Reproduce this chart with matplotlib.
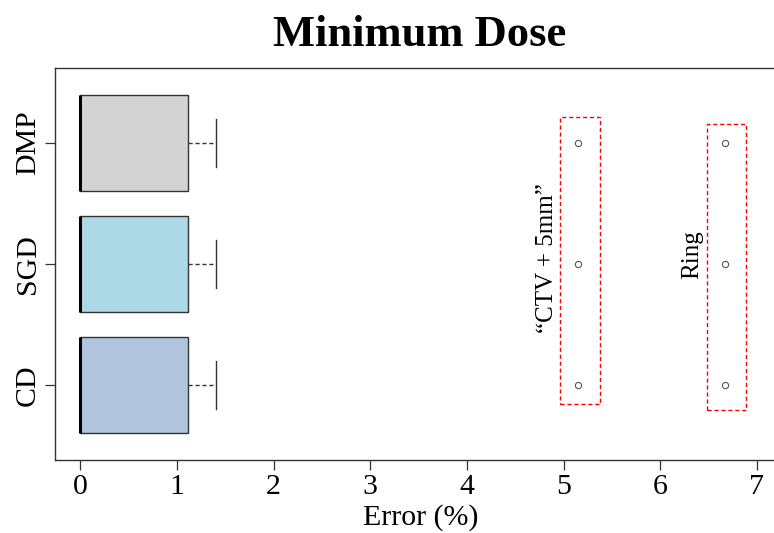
import matplotlib
matplotlib.use("Agg")
import matplotlib.pyplot as plt
from matplotlib.patches import Rectangle

# ---- data ----
categories = ["CD", "SGD", "DMP"]
box_colors = ["#B0C4DE", "#ADD8E6", "#D3D3D3"]
whisker_low = [0.0, 0.0, 0.0]
q1 = [0.0, 0.0, 0.0]
median = [0.0, 0.0, 0.0]
q3 = [1.12, 1.12, 1.12]
whisker_high = [1.41, 1.41, 1.41]
outliers = [[5.15, 6.67], [5.15, 6.67], [5.15, 6.67]]
region_labels = ["\u201cCTV + 5mm\u201d", "Ring"]
x_ticks = [0, 1, 2, 3, 4, 5, 6, 7]

plt.rcParams['font.family'] = ['Liberation Serif', 'DejaVu Serif']

fig = plt.figure(figsize=(7.74, 5.33), dpi=100)
ax = fig.add_axes([55/774, 1-460/533, (786-55)/774, (460-68)/533])

stats = []
for i, c in enumerate(categories):
    stats.append(dict(label=c, whislo=whisker_low[i], q1=q1[i], med=median[i],
                      q3=q3[i], whishi=whisker_high[i], fliers=outliers[i]))

positions = list(range(1, len(categories) + 1))
bp = ax.bxp(stats, positions=positions, widths=0.8, orientation='horizontal',
            patch_artist=True,
            boxprops=dict(edgecolor='#333333', linewidth=1.0),
            medianprops=dict(color='black', linewidth=2.2, solid_capstyle='butt'),
            whiskerprops=dict(color='#333333', linestyle=(0, (3, 2)), linewidth=1.0),
            capprops=dict(color='#333333', linewidth=1.0),
            capwidths=0.4,
            flierprops=dict(marker='o', markersize=4.5, markerfacecolor='none',
                            markeredgecolor='#555555', markeredgewidth=0.8))
for patch, col in zip(bp['boxes'], box_colors):
    patch.set_facecolor(col)

# highlighted outlier regions
ax.add_patch(Rectangle((4.96, 0.843), 5.38 - 4.96, 3.215 - 0.843, fill=False,
                       edgecolor='red', linestyle=(0, (3, 2)), linewidth=1.0))
ax.add_patch(Rectangle((6.48, 0.793), 6.89 - 6.48, 3.157 - 0.793, fill=False,
                       edgecolor='red', linestyle=(0, (3, 2)), linewidth=1.0))
ax.text(4.83, 2.05, region_labels[0], rotation=90, ha='center', va='center', fontsize=18)
ax.text(6.33, 2.08, region_labels[1], rotation=90, ha='center', va='center', fontsize=18)

ax.set_xlim(-0.26, 7.3)
ax.set_ylim(0.38, 3.62)
ax.set_xticks(x_ticks)
ax.set_xticklabels([str(t) for t in x_ticks], fontsize=21.5)
ax.set_yticks(positions)
ax.set_yticklabels(categories, fontsize=21.5, rotation=90, va='center')
ax.tick_params(direction='out', length=7, width=0.9, color='#333333', pad=3)
for s in ax.spines.values():
    s.set_color('#333333')
    s.set_linewidth(1.0)

ax.set_xlabel("Error (%)", fontsize=21.5, labelpad=3)
fig.text(420/774, 1-35/533, "Minimum Dose", ha='center', va='center',
         fontsize=32, fontweight='bold')

fig.savefig("out.png", dpi=100)
